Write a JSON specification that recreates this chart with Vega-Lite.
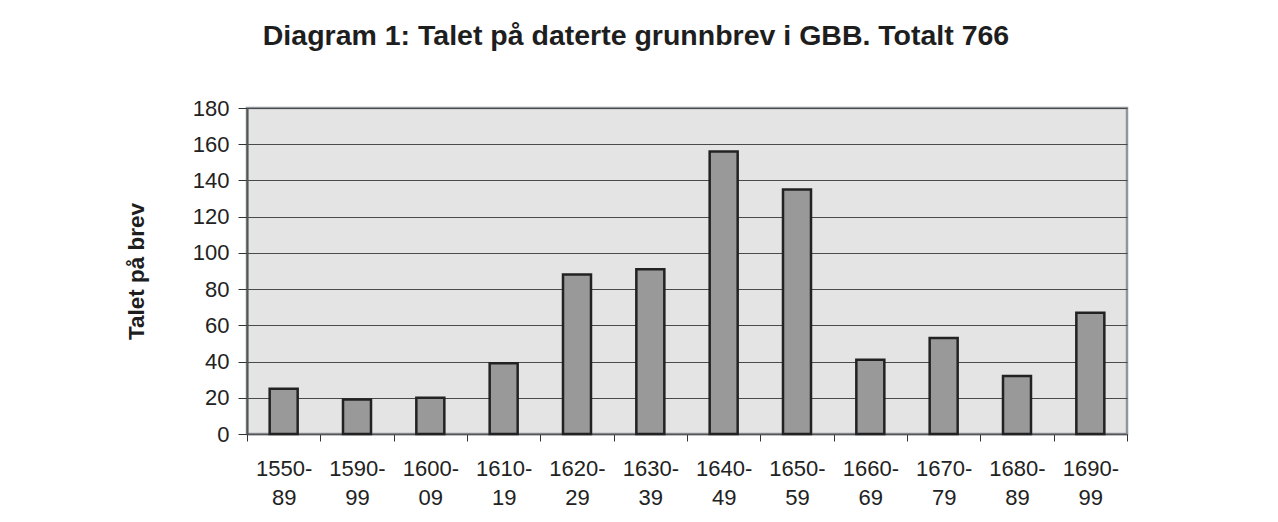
{
  "$schema": "https://vega.github.io/schema/vega-lite/v6.json",
  "width": 880,
  "height": 326,
  "autosize": {"type": "none"},
  "padding": {"left": 247, "top": 108, "right": 151, "bottom": 88},
  "background": "white",
  "title": {
    "text": "Diagram 1: Talet på daterte grunnbrev i GBB. Totalt 766",
    "font": "Liberation Sans",
    "fontSize": 28.5,
    "fontWeight": "bold",
    "color": "#1e1e1e",
    "anchor": "middle",
    "baseline": "alphabetic",
    "offset": 24,
    "dx": -51
  },
  "data": {
    "values": [
      {"periode": "1550- 89", "brev": 25},
      {"periode": "1590- 99", "brev": 19},
      {"periode": "1600- 09", "brev": 20},
      {"periode": "1610- 19", "brev": 39},
      {"periode": "1620- 29", "brev": 88},
      {"periode": "1630- 39", "brev": 91},
      {"periode": "1640- 49", "brev": 156},
      {"periode": "1650- 59", "brev": 135},
      {"periode": "1660- 69", "brev": 41},
      {"periode": "1670- 79", "brev": 53},
      {"periode": "1680- 89", "brev": 32},
      {"periode": "1690- 99", "brev": 67}
    ]
  },
  "mark": {"type": "bar", "size": 28, "fill": "#999999", "stroke": "#222222", "strokeWidth": 2.5},
  "encoding": {
    "x": {
      "field": "periode",
      "type": "nominal",
      "sort": null,
      "scale": {"paddingInner": 0, "paddingOuter": 0},
      "axis": {
        "title": null,
        "labelAngle": 0,
        "labelExpr": "isString(datum.value) ? split(datum.value, ' ') : ''",
        "labelFont": "Liberation Sans",
        "labelFontSize": 22,
        "labelColor": "#222222",
        "labelLineHeight": 29,
        "labelPadding": 17,
        "tickBand": "extent",
        "tickSize": 7,
        "tickColor": "#333333",
        "domainColor": "#555555",
        "domainWidth": 1.5,
        "grid": false
      }
    },
    "y": {
      "field": "brev",
      "type": "quantitative",
      "scale": {"domain": [0, 180], "nice": false},
      "axis": {
        "title": "Talet på brev",
        "titleFont": "Liberation Sans",
        "titleFontSize": 22.5,
        "titleFontWeight": "bold",
        "titleColor": "#1e1e1e",
        "titlePadding": 44,
        "values": [0, 20, 40, 60, 80, 100, 120, 140, 160, 180],
        "labelFont": "Liberation Sans",
        "labelFontSize": 22,
        "labelColor": "#222222",
        "labelPadding": 9,
        "tickSize": 9,
        "tickColor": "#333333",
        "domainColor": "#555555",
        "domainWidth": 2,
        "grid": true,
        "gridColor": "#4a4a4a",
        "gridWidth": 1.2
      }
    }
  },
  "config": {
    "view": {"fill": "#e4e4e4", "stroke": "#8f969e", "strokeWidth": 2.5}
  }
}
